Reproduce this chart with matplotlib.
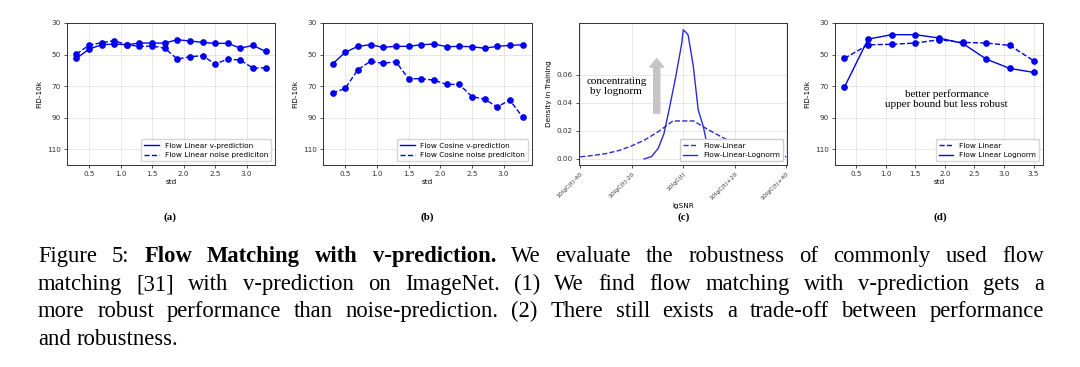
import matplotlib
matplotlib.use("Agg")
import matplotlib.pyplot as plt
import numpy as np

# ---- data ----
std_ab = [0.3, 0.5, 0.7, 0.9, 1.1, 1.3, 1.5, 1.7, 1.9, 2.1, 2.3, 2.5, 2.7, 2.9, 3.1, 3.3]
lin_v = [52.4, 46.5, 43.8, 43.3, 43.8, 42.7, 42.7, 42.7, 40.6, 41.4, 42.3, 42.9, 42.9, 45.9, 44.2, 48.0]
lin_noise = [49.7, 44.0, 42.5, 41.2, 43.8, 44.8, 44.6, 45.9, 52.9, 51.4, 50.7, 56.0, 52.9, 53.5, 58.6, 58.4]
cos_v = [56.0, 48.6, 44.8, 43.8, 45.4, 44.8, 44.8, 43.8, 43.3, 45.0, 44.8, 45.0, 46.0, 44.8, 44.2, 43.8]
cos_noise = [74.4, 71.5, 59.6, 54.3, 55.6, 54.5, 65.3, 65.3, 66.2, 68.9, 68.9, 76.6, 78.3, 83.1, 78.9, 89.5]

snr_lin = [-40, -35, -30, -25, -20, -15, -10, -4, 0, 4, 10, 15, 20, 25, 30, 35, 40]
dens_lin = [0.0015, 0.0025, 0.0038, 0.006, 0.0093, 0.0135, 0.019, 0.027, 0.027, 0.027,
            0.0205, 0.0155, 0.011, 0.0075, 0.0045, 0.0028, 0.0015]
snr_logn = [-15.2, -12.3, -9.7, -7.5, -5.5, -2.9, -0.6, 0.0, 1.3, 1.9, 3.9, 5.8, 7.8, 9.5, 12.0]
dens_logn = [0.0, 0.0017, 0.0076, 0.018, 0.035, 0.0586, 0.082, 0.0918, 0.0895, 0.088,
             0.066, 0.035, 0.023, 0.008, 0.0]
snr_ticks = [-40, -20, 0, 20, 40]
snr_labels = ['10lgC(t)-40', '10lgC(t)-20', '10lgC(t)', '10lgC(t)+20', '10lgC(t)+40']

std_d = [0.3, 0.7, 1.1, 1.5, 1.9, 2.3, 2.7, 3.1, 3.5]
d_linear = [52.4, 43.8, 43.5, 42.7, 40.6, 42.3, 42.7, 44.2, 53.9]
d_lognorm = [70.6, 40.2, 37.4, 37.4, 39.5, 42.9, 52.9, 58.8, 61.3]

W, H = 1080, 367
fs_tick = 5.2
serif = 'Liberation Serif'
blue = '#0000f0'

plt.rcParams['font.family'] = 'DejaVu Sans'
fig = plt.figure(figsize=(W / 100, H / 100), dpi=100)


def px_axes(x0, x1, y0, y1):
    return fig.add_axes([x0 / W, 1 - y1 / H, (x1 - x0) / W, (y1 - y0) / H])


def style(ax):
    ax.grid(True, color='#dddddd', linewidth=0.5)
    ax.set_axisbelow(True)
    ax.tick_params(labelsize=fs_tick, length=2.5, width=0.6, pad=2, colors='#333333')
    for s in ax.spines.values():
        s.set_linewidth(0.7)
        s.set_color('#333333')


def fid_axes(ax):
    ax.set_ylim(120, 30)
    ax.set_yticks([30, 50, 70, 90, 110])
    ax.set_xlabel('std', fontsize=fs_tick, labelpad=1.5)
    ax.set_ylabel('FID-10k', fontsize=fs_tick, labelpad=3)
    style(ax)


def legend_lines_only(ax, **kw):
    leg = ax.legend(loc='lower right', fontsize=5.3, **kw)
    for h in leg.legend_handles:
        h.set_marker('')
    return leg


mk = dict(marker='o', markersize=3.8, linewidth=1.0, color=blue)

# (a)
ax1 = px_axes(67, 275, 23, 165)
ax1.plot(std_ab, lin_v, '-', label='Flow Linear v-prediction', **mk)
ax1.plot(std_ab, lin_noise, '--', label='Flow Linear noise prediciton', **mk)
ax1.set_xticks([0.5, 1.0, 1.5, 2.0, 2.5, 3.0])
fid_axes(ax1)
legend_lines_only(ax1)

# (b)
ax2 = px_axes(323, 532, 23, 165)
ax2.plot(std_ab, cos_v, '-', label='Flow Cosine v-prediction', **mk)
ax2.plot(std_ab, cos_noise, '--', label='Flow Cosine noise prediciton', **mk)
ax2.set_xticks([0.5, 1.0, 1.5, 2.0, 2.5, 3.0])
fid_axes(ax2)
legend_lines_only(ax2)

# (c)
ax3 = px_axes(579, 787, 23, 165)
ax3.plot(snr_lin, dens_lin, '--', color='#2b2bd6', linewidth=1.0, label='Flow-Linear')
ax3.plot(snr_logn, dens_logn, '-', color='#2b2bd6', linewidth=1.0, label='Flow-Linear-Lognorm')
ax3.set_xlim(-40.5, 40.3)
ax3.set_ylim(-0.0043, 0.0966)
ax3.set_yticks([0.0, 0.02, 0.04, 0.06])
ax3.set_yticklabels(['0.00', '0.02', '0.04', '0.06'])
ax3.set_xticks(snr_ticks)
ax3.set_xticklabels(snr_labels, rotation=45, ha='right', rotation_mode='anchor')
ax3.set_xlabel('lgSNR', fontsize=fs_tick, labelpad=1)
ax3.set_ylabel('Density in Training', fontsize=fs_tick, labelpad=3)
style(ax3)
ax3.tick_params(axis='x', labelsize=4.3)
ax3.annotate('', xy=(-10.3, 0.0712), xytext=(-10.3, 0.0325),
             arrowprops=dict(arrowstyle='simple,head_width=0.5,head_length=0.3,tail_width=0.22',
                             mutation_scale=20, color='#c4c4c4', shrinkA=0, shrinkB=0))
ax3.text(-26, 0.0512, 'concentrating\nby lognorm', family=serif, fontsize=8,
         ha='center', va='center', linespacing=1.15)
ax3.legend(loc='lower right', fontsize=5.3, framealpha=1)

# (d)
ax4 = px_axes(835, 1043, 23, 165)
ax4.plot(std_d, d_linear, '--', label='Flow Linear', **mk)
ax4.plot(std_d, d_lognorm, '-', label='Flow Linear Lognorm', **mk)
ax4.set_xticks([0.5, 1.0, 1.5, 2.0, 2.5, 3.0, 3.5])
fid_axes(ax4)
ax4.text(2.03, 78.3, 'better performance\nupper bound but less robust', family=serif,
         fontsize=8, ha='center', va='center', linespacing=1.2)
legend_lines_only(ax4)

# sub-captions
for x, lab in zip([170, 427, 684, 940], ['(a)', '(b)', '(c)', '(d)']):
    fig.text(x / W, 1 - 217 / H, lab, family=serif, fontweight='bold', fontsize=7.8,
             ha='center', va='center')

# ---- caption, justified like the paper ----
cap_lines = [
    [('Figure 5:', 'normal'), ('Flow Matching with v-prediction.', 'bold'),
     ('We evaluate the robustness of commonly used flow', 'normal')],
    [('matching [31] with v-prediction on ImageNet. (1) We find flow matching with v-prediction gets a', 'normal')],
    [('more robust performance than noise-prediction. (2) There still exists a trade-off between performance', 'normal')],
    [('and robustness.', 'normal')],
]
baselines = [262, 290, 317, 345]
cap_left, cap_right = 38, 1044

renderer = fig.canvas.get_renderer()


def width_of(s, fs, wt):
    t = fig.text(0, 0, s, family=serif, fontsize=fs, fontweight=wt)
    w = t.get_window_extent(renderer).width
    t.remove()
    return w


cap_fs = 16.3
widest = width_of(' '.join(seg for seg, _ in cap_lines[2]), cap_fs, 'normal')
if widest > (cap_right - cap_left) * 0.995:
    cap_fs = cap_fs * (cap_right - cap_left) * 0.995 / widest

for i, (line, yb) in enumerate(zip(cap_lines, baselines)):
    words = [(w, wt) for seg, wt in line for w in seg.split(' ')]
    widths = [width_of(w, cap_fs, wt) for w, wt in words]
    if i < len(cap_lines) - 1:
        gap = (cap_right - cap_left - sum(widths)) / (len(words) - 1)
    else:
        gap = width_of('a a', cap_fs, 'normal') - width_of('aa', cap_fs, 'normal')
    x = cap_left
    for (w, wt), wd in zip(words, widths):
        fig.text(x / W, 1 - yb / H, w, family=serif, fontsize=cap_fs, fontweight=wt,
                 ha='left', va='baseline')
        x += wd + gap

fig.savefig('out.png', dpi=100)
